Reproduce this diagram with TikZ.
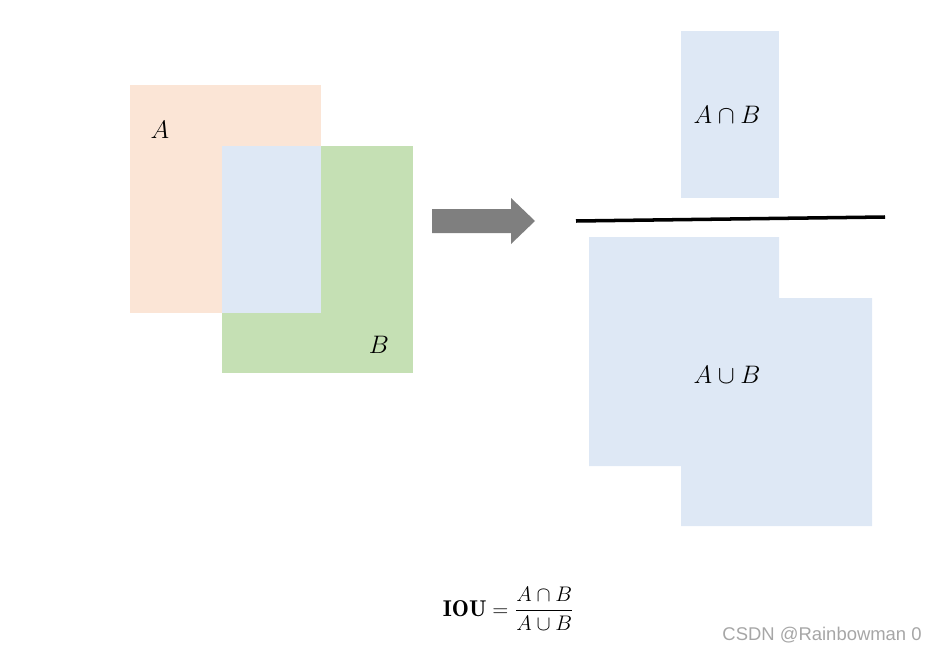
\documentclass[tikz,border=0pt]{standalone}
\usepackage{amsmath,amssymb}
\usepackage{fontspec}
\newfontfamily\wmfont{Liberation Sans}
\usepackage{tikz}
\usetikzlibrary{positioning,calc}
\definecolor{cseta}{HTML}{FBE5D6}
\definecolor{csetb}{HTML}{C5E0B4}
\definecolor{cover}{HTML}{DEE8F5}
\definecolor{carrow}{HTML}{7F7F7F}
\definecolor{cmark}{HTML}{A6A6A6}
\tikzset{
  region/.style={draw=none, inner sep=0pt, outer sep=0pt},
  seta/.style={region, fill=cseta, minimum width=3.82cm, minimum height=4.56cm},
  setb/.style={region, fill=csetb, minimum width=3.82cm, minimum height=4.54cm},
  inter/.style={region, fill=cover, minimum width=1.97cm, minimum height=3.34cm},
  setlbl/.style={font=\fontsize{14}{16}\selectfont, inner sep=0pt},
  bar/.style={line width=2pt, draw=black},
  wmark/.style={font=\wmfont\fontsize{10.5}{12}\selectfont, text=cmark, inner sep=0pt},
}
\begin{document}
\begin{tikzpicture}[x=0.02cm,y=-0.02cm]
\useasboundingbox (0,0) rectangle (940,652);
% ---------------- (left) two boxes
\node[seta] (boxa) at (225.5,199) {};
\node[setb] (boxb) at (317.5,259.5) {};
\node[inter] (ab) at (271.5,229.5) {};
\node[setlbl] (la) at (160,130) {$A$};
\node[setlbl] (lb) at (379,345) {$B$};
% ---------------- arrow
\fill[carrow] (432,209) -- (511,209) -- (511,198) -- (535,221) -- (511,244)
  -- (511,233) -- (432,233) -- cycle;
% ---------------- (right) ratio
\node[inter] (num) at (730,114.5) {};
\node[setlbl] (lnum) at (727,115) {$A\cap B$};
\coordinate (barl) at (576,221);
\coordinate (barr) at (885,217);
\draw[bar] (barl) -- (barr);
\fill[cover] (589,237) -- (779,237) -- (779,298) -- (872,298) -- (872,526)
  -- (681,526) -- (681,466) -- (589,466) -- cycle;
\node[setlbl] (lden) at (727,375) {$A\cup B$};
% ---------------- formula
\node[inner sep=0pt, font=\fontsize{13}{15}\selectfont] (iou) at (508.5,609)
  {$\mathbf{IOU}=\dfrac{A\cap B}{A\cup B}$};
\node[wmark, anchor=east] (wm) at (922,635) {CSDN @Rainbowman 0};
\end{tikzpicture}
\end{document}
